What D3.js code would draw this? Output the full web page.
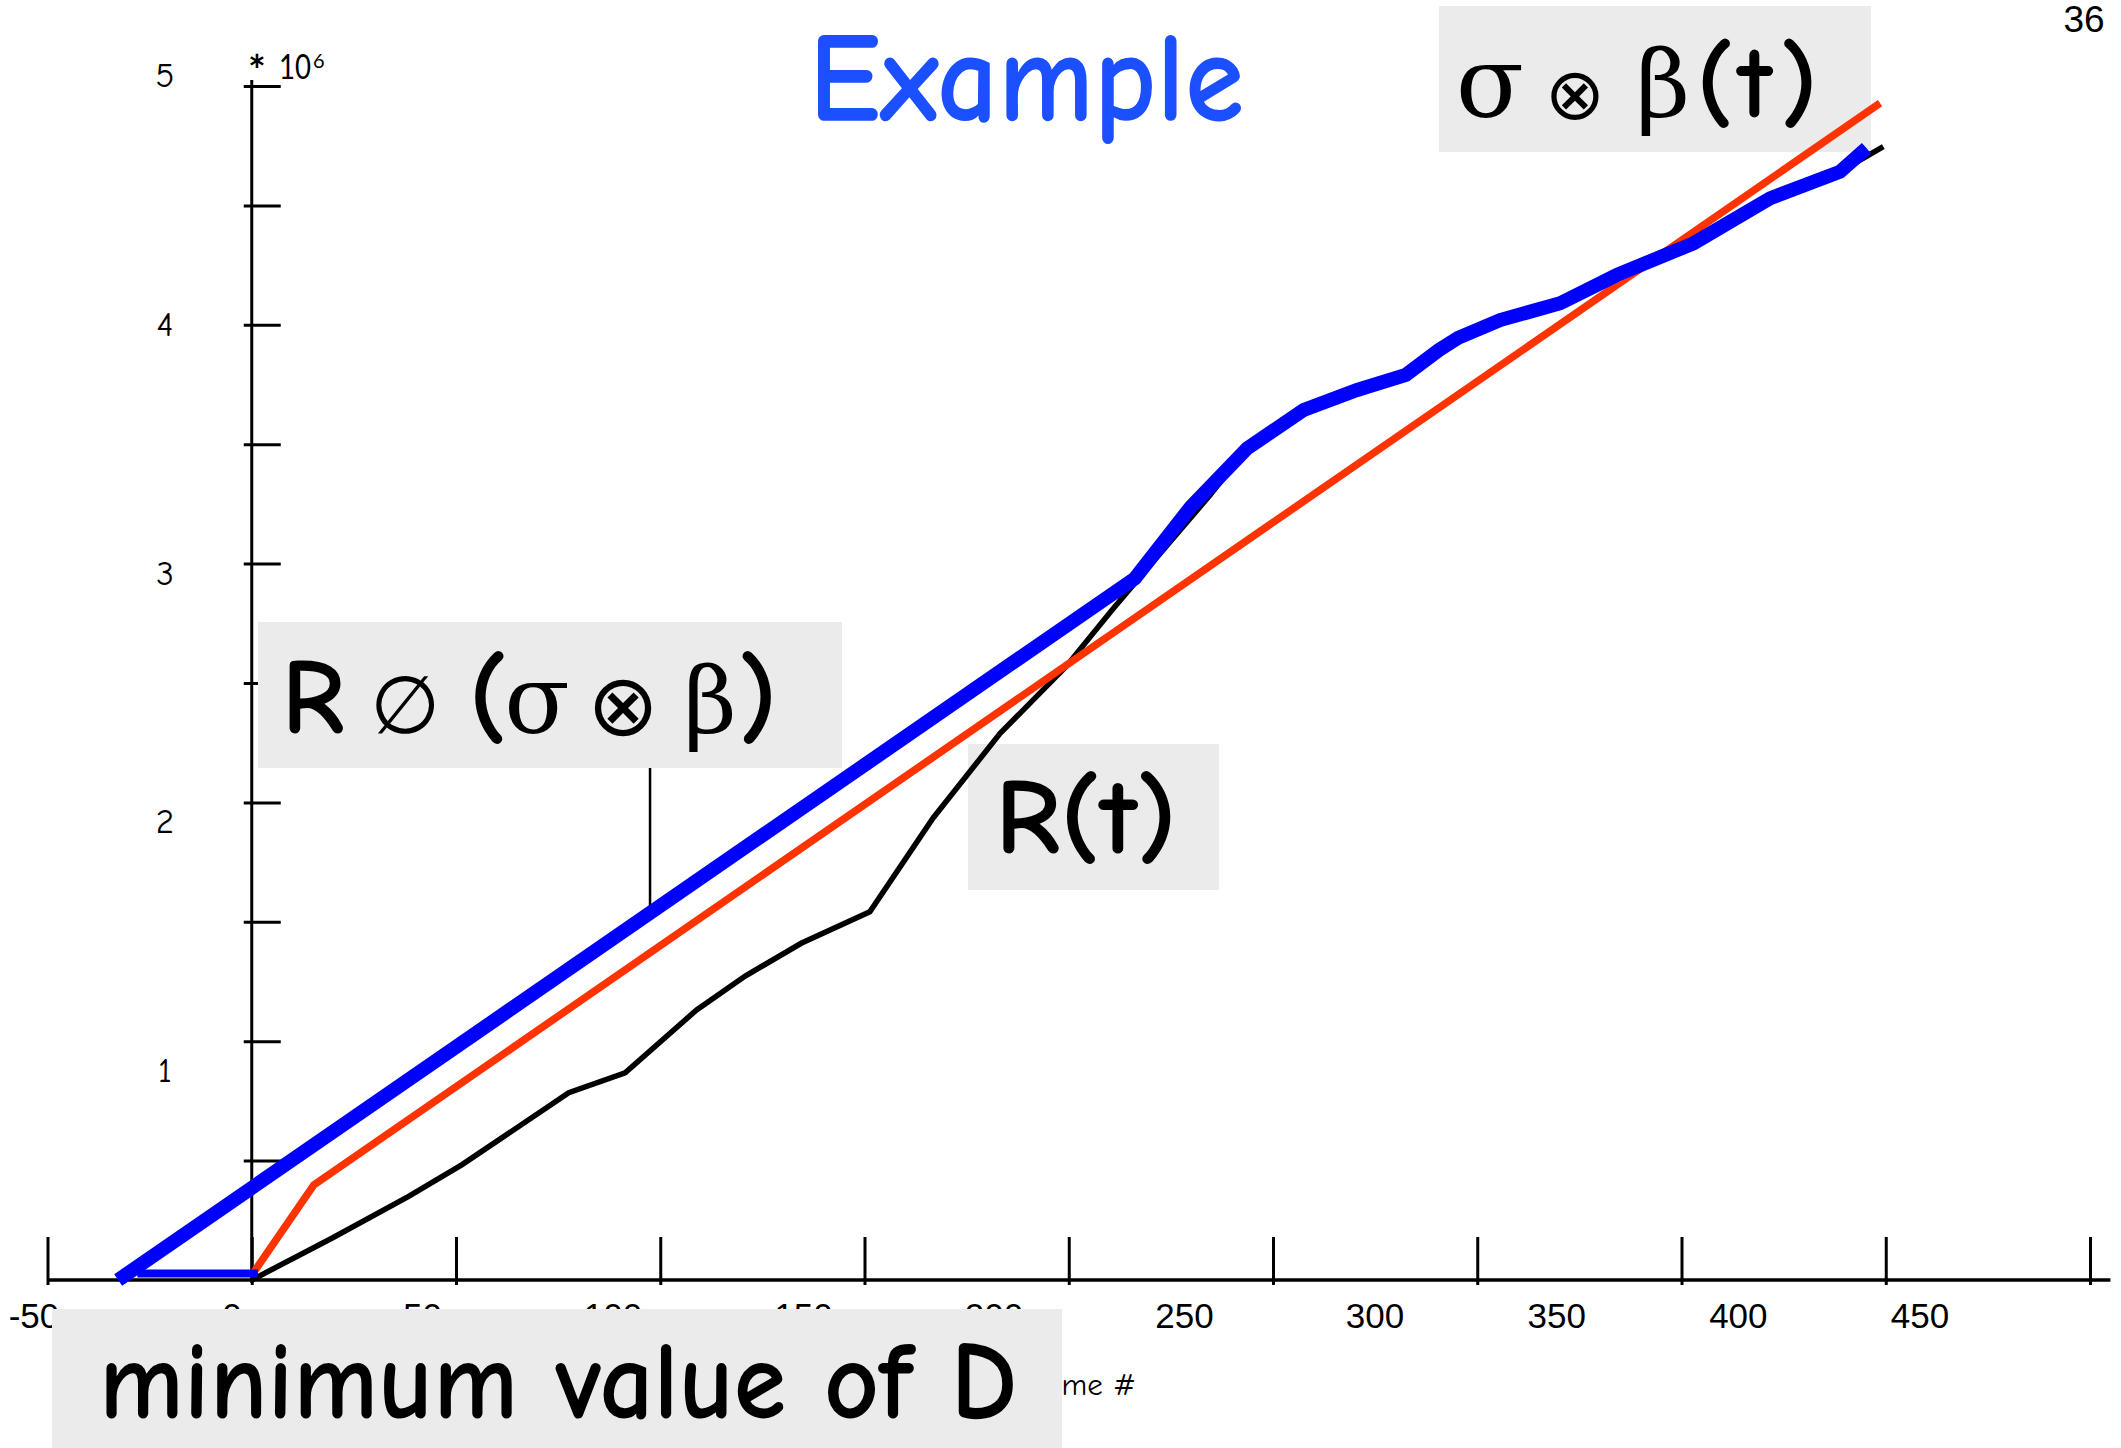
<!DOCTYPE html>
<html>
<head>
<meta charset="utf-8">
<script src="https://cdn.jsdelivr.net/npm/d3@7"></script>
<style>
  body { margin: 0; background: #fff; }
  svg { display: block; }
</style>
</head>
<body>
<svg id="chart" width="2121" height="1448"></svg>
<script>
// values: x = frame #, y = data in millions (* 10^6)
const frameTicks = [-50, 0, 50, 100, 150, 200, 250, 300, 350, 400, 450];
const valueTicks = [0.5, 1, 1.5, 2, 2.5, 3, 3.5, 4, 4.5, 5];
const valueLabels = [1, 2, 3, 4, 5];

// R(t) - black
const rFrames = [0, 19.6, 38.3, 51.4, 77.6, 91.4, 108.9, 120.8, 134.5, 151.3, 166.8, 183.2, 199.3, 210.6, 216.2,
  234.6, 243.7, 257.5, 270.6, 282.5, 290.6, 295.3, 305.6, 320.3, 334.2, 352.9, 371.7, 388.8, 399.4];
const rValues = [0, 0.175, 0.349, 0.482, 0.784, 0.868, 1.131, 1.273, 1.410, 1.542, 1.935, 2.289, 2.568, 2.806, 2.919,
  3.287, 3.483, 3.643, 3.727, 3.790, 3.894, 3.945, 4.020, 4.090, 4.209, 4.341, 4.530, 4.641, 4.746];

// sigma (x) beta (t) - red
const boundFrames = [0, 15.2, 398.6];
const boundValues = [0.02, 0.398, 4.928];

// R deconv (sigma (x) beta) - thick blue
const envFrames = [-32.7, 216.2, 229.9, 243.7, 257.5, 270.6, 282.5, 290.6, 295.3, 305.6, 320.3, 334.2, 352.9,
  371.7, 388.8, 395.3];
const envValues = [0, 2.938, 3.238, 3.483, 3.643, 3.727, 3.790, 3.894, 3.945, 4.020, 4.090, 4.209, 4.341,
  4.530, 4.641, 4.739];
// the flat blue piece along the bottom (minimum value of D)
const floorFrames = [-28, 1.5];
const floorValues = [0.027, 0.027];

const pointerFrame = 97.5; // where the label's stick touches the blue curve

const comic = "'Comic Sans MS', 'Comic Neue', Lato, sans-serif";
const serifSym = "'DejaVu Serif', serif";
const sansSym = "'DejaVu Sans', sans-serif";
const plain = "'Liberation Sans', Arial, sans-serif";

const svg = d3.select('#chart');

// scales (the slide's tick marks and tick labels don't line up, so labels get their own scale)
const x = d3.scaleLinear().domain([-50, 450]).range([47.5, 2090]);
const y = d3.scaleLinear().domain([0, 5]).range([1280, 86]);
const xLabel = d3.scaleLinear().domain([-50, 0, 300, 450]).range([34, 232, 1375, 1920]);
const yLabel = d3.scaleLinear().domain([1, 5]).range([1070, 75]);

// ---- axes ----
const xAxis = svg.append('g')
  .attr('transform', `translate(0, ${y(0)})`)
  .call(d3.axisBottom(x).tickValues(frameTicks).tickSize(-43).tickFormat(''));
xAxis.select('.domain').remove();
xAxis.selectAll('text').remove();
xAxis.selectAll('.tick line').attr('y1', 5).attr('stroke', '#000').attr('stroke-width', 3);

const yAxis = svg.append('g')
  .attr('transform', `translate(${x(0)}, 0)`)
  .call(d3.axisRight(y).tickValues(valueTicks).tickSize(29).tickFormat(''));
yAxis.select('.domain').remove();
yAxis.selectAll('text').remove();
yAxis.selectAll('.tick line').attr('x1', -8).attr('stroke', '#000').attr('stroke-width', 3);

svg.append('line')
  .attr('x1', x(-50)).attr('x2', x(455))
  .attr('y1', y(0)).attr('y2', y(0))
  .attr('stroke', '#000').attr('stroke-width', 3.5);
svg.append('line')
  .attr('x1', x(0)).attr('x2', x(0))
  .attr('y1', 80).attr('y2', y(0) + 3)
  .attr('stroke', '#000').attr('stroke-width', 3);

// tick labels
svg.append('g').selectAll('text')
  .data(frameTicks)
  .join('text')
  .attr('x', d => xLabel(d))
  .attr('y', 1328)
  .attr('text-anchor', 'middle')
  .style('font-family', plain)
  .style('font-size', '35px')
  .text(d => d);

svg.append('g').selectAll('text')
  .data(valueLabels)
  .join('text')
  .attr('x', 165)
  .attr('y', d => yLabel(d) + 12)
  .attr('text-anchor', 'middle')
  .style('font-family', comic)
  .style('font-size', '35px')
  .text(d => d);

// * 10^6
svg.append('text').attr('x', 257).attr('y', 86).attr('text-anchor', 'middle')
  .style('font-family', 'Lato, sans-serif').style('font-size', '42px').style('font-weight', 'bold').text('*');
svg.append('text').attr('x', 279).attr('y', 79)
  .attr('textLength', 32).attr('lengthAdjust', 'spacingAndGlyphs')
  .style('font-family', 'Lato, sans-serif').style('font-size', '34px').text('10');
svg.append('text').attr('x', 313).attr('y', 68)
  .style('font-family', 'Lato, sans-serif').style('font-size', '20px').text('6');

// x axis title (mostly hidden by the box)
svg.append('text').attr('x', 1136).attr('y', 1395).attr('text-anchor', 'end')
  .style('font-family', comic).style('font-size', '31px').text('Frame #');

// page number
svg.append('text').attr('x', 2084).attr('y', 32).attr('text-anchor', 'middle')
  .style('font-family', plain).style('font-size', '37px').text('36');

// title
svg.append('text').attr('x', 809).attr('y', 120)
  .attr('textLength', 435).attr('lengthAdjust', 'spacingAndGlyphs')
  .style('font-family', comic).style('font-size', '128px').style('font-weight', 'bold')
  .attr('fill', '#1a50ff')
  .text('Example');

// ---- grey annotation boxes ----
const boxFill = '#ebebeb';
function box(x0, y0, x1, y1) {
  svg.append('rect').attr('x', x0).attr('y', y0)
    .attr('width', x1 - x0).attr('height', y1 - y0).attr('fill', boxFill);
}
function glyph(ch, cx, base, size, family, weight) {
  svg.append('text').attr('x', cx).attr('y', base).attr('text-anchor', 'middle')
    .style('font-family', family).style('font-size', size + 'px')
    .style('font-weight', weight || 'normal')
    .text(ch);
}

box(1439, 6, 1871, 152);
glyph('σ', 1490, 117, 100, serifSym);
glyph('⊗', 1575, 119, 72, sansSym);
glyph('β', 1663, 117, 94, serifSym);
glyph('(', 1715, 117, 104, comic, 'bold');
glyph('t', 1755, 117, 104, comic, 'bold');
glyph(')', 1799, 117, 104, comic, 'bold');

box(258, 622, 842, 768);
glyph('R', 313, 733, 108, comic, 'bold');
glyph('∅', 405, 733, 80, sansSym);
glyph('(', 488, 733, 108, comic, 'bold');
glyph('σ', 537, 733, 96, serifSym);
glyph('⊗', 623, 735, 86, sansSym);
glyph('β', 710, 733, 92, serifSym);
glyph(')', 758, 733, 108, comic, 'bold');

box(968, 744, 1219, 890);
svg.append('text').attr('x', 995).attr('y', 853)
  .attr('textLength', 182).attr('lengthAdjust', 'spacingAndGlyphs')
  .style('font-family', comic).style('font-size', '108px').style('font-weight', 'bold')
  .text('R(t)');

box(52, 1309, 1062, 1448);
svg.append('text').attr('x', 99).attr('y', 1418)
  .attr('textLength', 918).attr('lengthAdjust', 'spacingAndGlyphs')
  .style('font-family', comic).style('font-size', '112px').style('font-weight', 'bold')
  .text('minimum value of D');

// stick from the label box down to the blue curve
const envAt = d3.scaleLinear().domain(envFrames.slice(0, 2)).range(envValues.slice(0, 2));
svg.append('line')
  .attr('x1', x(pointerFrame)).attr('x2', x(pointerFrame))
  .attr('y1', 768).attr('y2', y(envAt(pointerFrame)))
  .attr('stroke', '#000').attr('stroke-width', 2.5);

// ---- curves ----
const line = d3.line().x(d => x(d[0])).y(d => y(d[1]));

svg.append('path')
  .datum(d3.zip(rFrames, rValues))
  .attr('d', line)
  .attr('fill', 'none').attr('stroke', '#000').attr('stroke-width', 5.5);

svg.append('path')
  .datum(d3.zip(boundFrames, boundValues))
  .attr('d', line)
  .attr('fill', 'none').attr('stroke', '#ff3300').attr('stroke-width', 7.5);

svg.append('path')
  .datum(d3.zip(floorFrames, floorValues))
  .attr('d', line)
  .attr('fill', 'none').attr('stroke', '#0000ff').attr('stroke-width', 8);

svg.append('path')
  .datum(d3.zip(envFrames, envValues))
  .attr('d', line)
  .attr('fill', 'none').attr('stroke', '#0000ff').attr('stroke-width', 14)
  .attr('stroke-linejoin', 'miter');
</script>
</body>
</html>
